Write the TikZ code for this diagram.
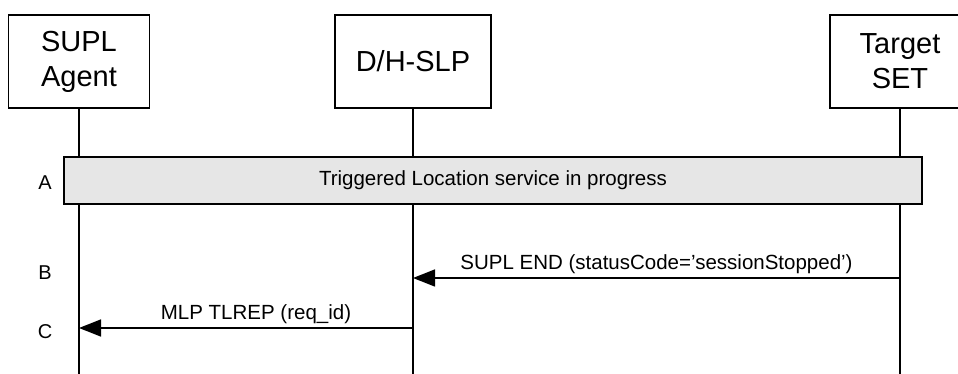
\documentclass[tikz,border=0pt]{standalone}
\usepackage{fontspec}
\setmainfont{Liberation Sans}
\usetikzlibrary{arrows.meta}
\usetikzlibrary{positioning}

\tikzset{
  entity/.style={draw, line width=1.3pt, minimum height=93pt, inner sep=0pt, align=center, font=\fontsize{29}{35}\selectfont},
  lifeline/.style={line width=1.4pt},
  msg/.style={line width=1.5pt, -{Triangle[length=22pt,width=17pt]}},
  msgtext/.style={inner sep=0pt, font=\fontsize{20.5}{24}\selectfont},
  steplabel/.style={font=\fontsize{20}{24}\selectfont},
}

\begin{document}
\begin{tikzpicture}[x=1pt, y=1pt]
      \clip (0, 0) rectangle (958, 374);

      % entities
      \node[entity, minimum width=141pt] (agent) at (79, 312.5) {SUPL\\Agent};
      \node[entity, minimum width=156pt] (slp) at (413, 312.5) {D/H-SLP};
      \node[entity, minimum width=140pt] (set) at (900, 312.5) {Target\\SET};

      % lifelines
      \coordinate (agentend) at (79, 0);
      \coordinate (slpend) at (413, 0);
      \coordinate (setend) at (900, 0);
      \draw[lifeline] (agent.south) -- (agentend);
      \draw[lifeline] (slp.south) -- (slpend);
      \draw[lifeline] (set.south) -- (setend);

      % A
      \node[draw, line width=1.2pt, fill={rgb,255:red,230;green,230;blue,230}, minimum width=858pt, minimum height=47pt, font=\fontsize{20.5}{24}\selectfont] (progress) at (493, 193.5) {Triggered Location service in progress};
      \node[steplabel] (stepA) at (45, 191) {A};

      % B
      \coordinate (setB) at (900, 96);
      \coordinate (slpB) at (413, 96);
      \draw[msg] (setB) -- node[msgtext, above=3pt] {SUPL END (statusCode='sessionStopped')} (slpB);
      \node[steplabel] (stepB) at (45, 101) {B};

      % C
      \coordinate (slpC) at (413, 46);
      \coordinate (agentC) at (79, 46);
      \draw[msg] (slpC) -- node[msgtext, above=3pt, xshift=10pt] {MLP TLREP (req\_id)} (agentC);
      \node[steplabel] (stepC) at (45, 42) {C};
    \end{tikzpicture}
\end{document}
